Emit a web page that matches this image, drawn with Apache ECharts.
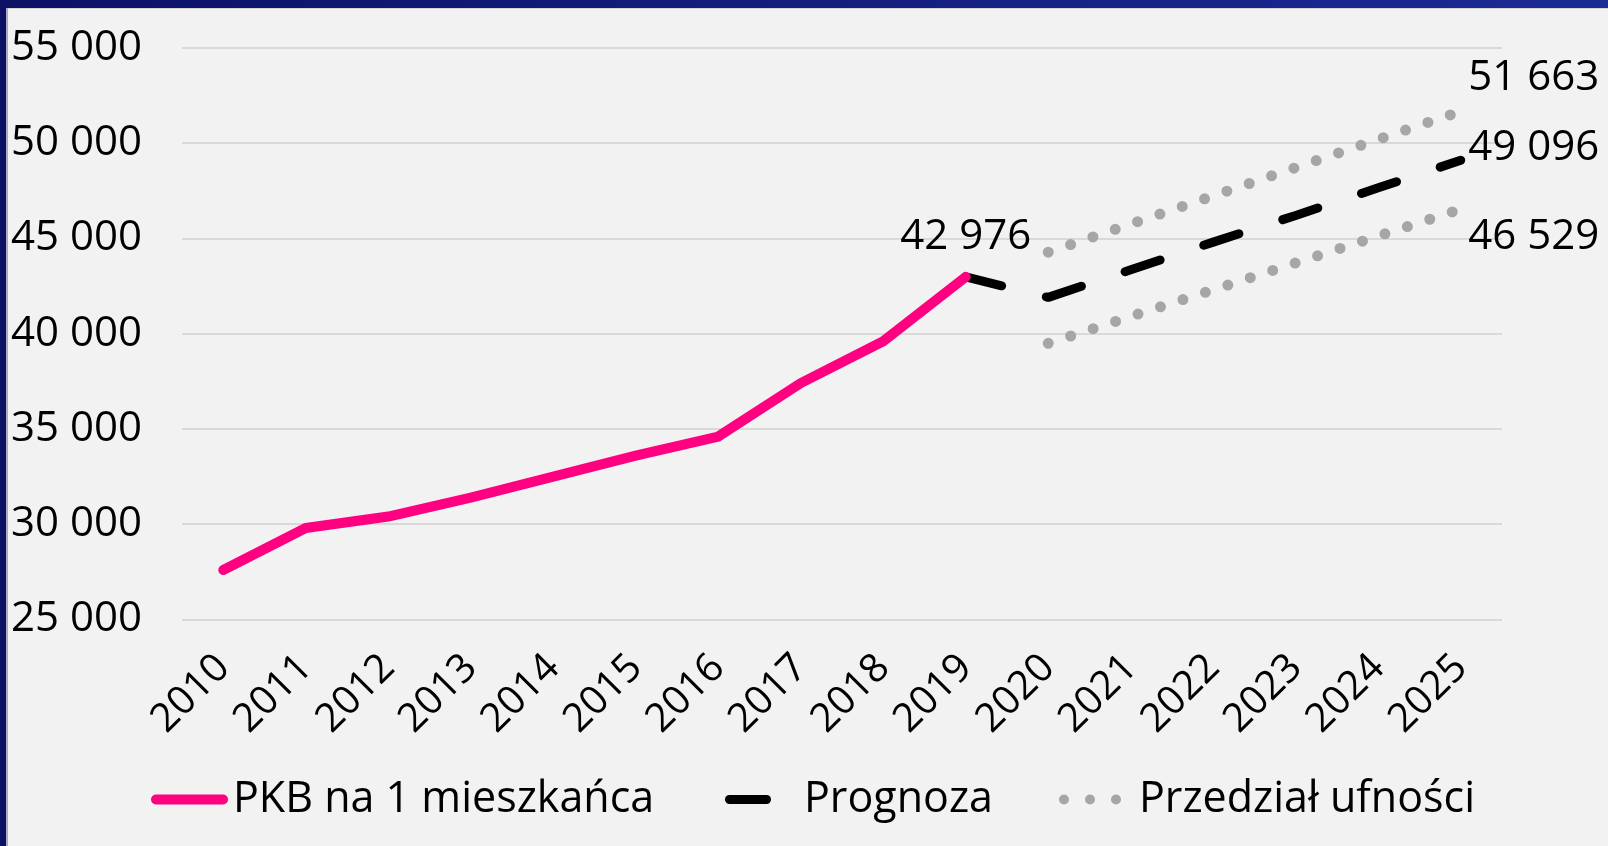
<!DOCTYPE html>
<html>
<head>
<meta charset="utf-8">
<script src="https://cdn.jsdelivr.net/npm/echarts@6/dist/echarts.min.js"></script>
<style>
html,body{margin:0;padding:0;background:#f2f2f2;}
#chart{width:1608px;height:846px;}
</style>
</head>
<body>
<div id="chart"></div>
<script>
const years = ['2010','2011','2012','2013','2014','2015','2016','2017','2018','2019','2020','2021','2022','2023','2024','2025'];
const gdp = [27600, 29800, 30400, 31400, 32500, 33600, 34600, 37400, 39600, 42976];
const forecastYears = ['2019','2020','2021','2022','2023','2024','2025'];
const forecast = [42976, 41900, 43350, 44800, 46200, 47650, 49096];
const boundYears = ['2020','2021','2022','2023','2024','2025'];
const upper = [44270, 45750, 47230, 48710, 50190, 51663];
const lower = [39490, 40900, 42300, 43710, 45120, 46529];
const yTicks = [25000, 30000, 35000, 40000, 45000, 50000, 55000];
const names = ['PKB na 1 mieszkańca', 'Prognoza', 'Przedział ufności'];

const FONT = 'Open Sans';
const fmt = v => String(v).replace(/\B(?=(\d{3})+(?!\d))/g, ' ');

function alignTo(srcYears, vals, labelOffset, labelIdx, pos, dist) {
  return years.map(y => {
    const i = srcYears.indexOf(y);
    if (i < 0) return null;
    const item = { value: vals[i] };
    if (i === labelIdx) {
      item.symbol = 'circle';
      item.symbolSize = 1;
      item.itemStyle = { opacity: 0 };
      item.label = { show: true, position: pos, offset: labelOffset, distance: dist };
    }
    return item;
  });
}

const chart = echarts.init(document.getElementById('chart'), null, { renderer: 'canvas' });
const labelStyle = { show: false, fontFamily: FONT, fontSize: 42, color: '#000', opacity: 1, formatter: p => fmt(p.value) };

const option = {
  animation: false,
  backgroundColor: '#f2f2f2',
  grid: { left: 182, right: 106, top: 47.7, bottom: 226.5, containLabel: false },
  xAxis: {
    type: 'category',
    data: years,
    boundaryGap: true,
    axisLine: { show: false },
    axisTick: { show: false },
    axisLabel: { rotate: 45, margin: 42, fontFamily: FONT, fontSize: 40, color: '#000', interval: 0 }
  },
  yAxis: {
    type: 'value',
    min: yTicks[0],
    max: yTicks[yTicks.length - 1],
    interval: yTicks[1] - yTicks[0],
    axisLine: { show: false },
    axisTick: { show: false },
    axisLabel: { margin: 40, fontFamily: FONT, fontSize: 42, color: '#000', formatter: v => fmt(v) },
    splitLine: { lineStyle: { color: '#d9d9d9', width: 2 } }
  },
  legend: [
    {
      left: 146, top: 773, itemWidth: 77, itemHeight: 10, itemGap: 0,
      selectedMode: false,
      textStyle: { fontFamily: FONT, fontSize: 43, color: '#000' },
      data: [{ name: names[0], icon: 'path://M5,0H72A5,5 0 0 1 72,10H5A5,5 0 0 1 5,0Z', itemStyle: { color: '#ff0080', borderWidth: 0, opacity: 1 } }]
    },
    {
      left: 720, top: 773, itemWidth: 46, itemHeight: 9, itemGap: 0,
      selectedMode: false,
      textStyle: { fontFamily: FONT, fontSize: 43, color: '#000', padding: [0, 0, 0, 28] },
      data: [{ name: names[1], icon: 'path://M4.5,0H41.5A4.5,4.5 0 0 1 41.5,9H4.5A4.5,4.5 0 0 1 4.5,0Z', itemStyle: { color: '#000', borderWidth: 0, opacity: 1 } }]
    },
    {
      left: 1054, top: 773, itemWidth: 62, itemHeight: 11, itemGap: 0,
      selectedMode: false,
      textStyle: { fontFamily: FONT, fontSize: 43, color: '#000', padding: [0, 0, 0, 13] },
      data: [{ name: names[2], icon: 'path://M0,5a5,5 0 1,0 10,0a5,5 0 1,0 -10,0Z M26,5a5,5 0 1,0 10,0a5,5 0 1,0 -10,0Z M52,5a5,5 0 1,0 10,0a5,5 0 1,0 -10,0Z', itemStyle: { color: '#a6a6a6', borderWidth: 0, opacity: 1 } }]
    }
  ],
  series: [
    {
      name: names[2], type: 'line', symbol: 'none', z: 2,
      data: alignTo(boundYears, upper, [2, -33], upper.length - 1, 'right', 5),
      lineStyle: { color: '#a6a6a6', width: 11, type: [0, 23.6], cap: 'round' },
      itemStyle: { color: '#a6a6a6' },
      label: labelStyle
    },
    {
      name: names[2], type: 'line', symbol: 'none', z: 2,
      data: alignTo(boundYears, lower, [2, 28], lower.length - 1, 'right', 5),
      lineStyle: { color: '#a6a6a6', width: 11, type: [0, 23.6], cap: 'round' },
      itemStyle: { color: '#a6a6a6' },
      label: labelStyle
    },
    {
      name: names[1], type: 'line', symbol: 'none', z: 3,
      data: alignTo(forecastYears, forecast, [2, -12], forecast.length - 1, 'right', 5),
      lineStyle: { color: '#000', width: 9, type: [37, 46], cap: 'round' },
      itemStyle: { color: '#000' },
      label: labelStyle
    },
    {
      name: names[0], type: 'line', symbol: 'none', z: 4,
      data: alignTo(years, gdp, [0, 0], gdp.length - 1, 'top', 18),
      lineStyle: { color: '#ff0080', width: 10, cap: 'round', join: 'round' },
      itemStyle: { color: '#ff0080' },
      label: labelStyle
    }
  ],
  graphic: [
    { type: 'rect', left: 0, top: 0, shape: { width: 1608, height: 8 }, z: 100,
      style: { fill: new echarts.graphic.LinearGradient(0, 0, 1, 0, [{ offset: 0, color: '#0c1166' }, { offset: 1, color: '#1b2b96' }]) } },
    { type: 'rect', left: 0, top: 8, shape: { width: 1608, height: 1 }, z: 100, style: { fill: '#d6d6d6' } },
    { type: 'rect', left: 0, top: 0, shape: { width: 6, height: 846 }, z: 101, style: { fill: '#0c1166' } },
    { type: 'rect', left: 6, top: 8, shape: { width: 2, height: 838 }, z: 101, style: { fill: '#a9aac6' } }
  ]
};
chart.setOption(option);
</script>
</body>
</html>
